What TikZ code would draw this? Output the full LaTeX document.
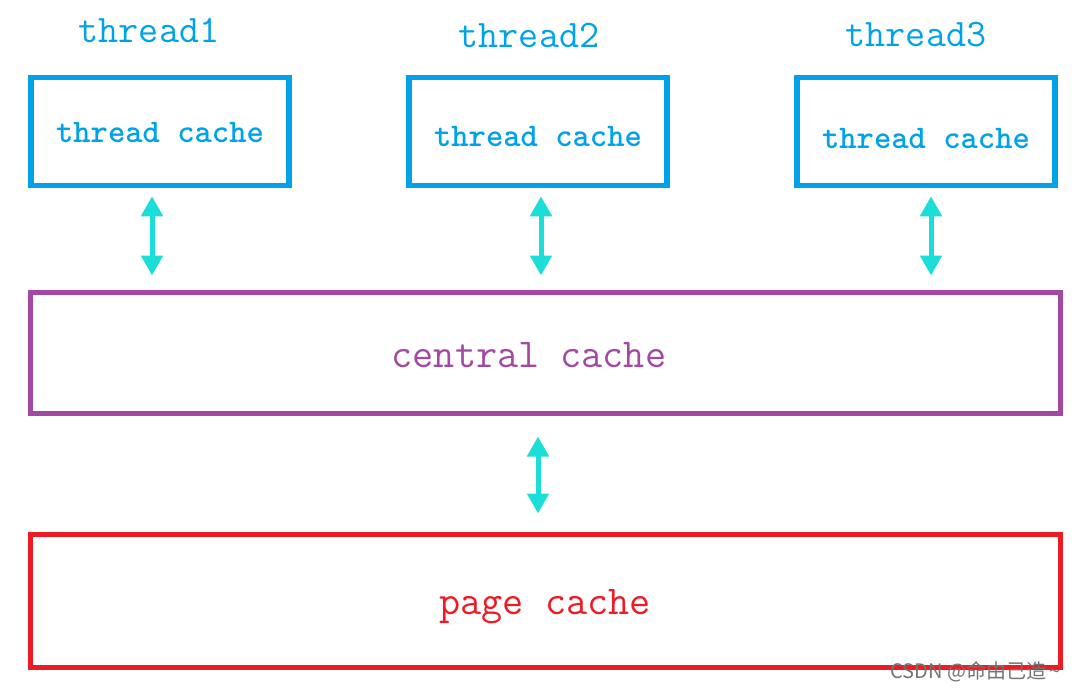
\documentclass[tikz,border=0pt]{standalone}
\usepackage{fontspec}
\newfontfamily\cjkfont{Noto Sans CJK SC}
\usetikzlibrary{arrows.meta, positioning}
\definecolor{threadblue}{RGB}{0,162,232}
\definecolor{centralpurple}{RGB}{163,73,164}
\definecolor{pagered}{RGB}{237,28,36}
\definecolor{linkcyan}{RGB}{27,222,216}
\newcommand{\lowertext}[2]{\raisebox{-#1}[\height][\depth]{#2}}

\begin{document}
\begin{tikzpicture}[x=1pt,y=-1pt,
  tcache/.style={draw=threadblue, line width=5.5pt, minimum width=258pt, minimum height=108pt, inner sep=0pt, text=threadblue, font=\ttfamily\bfseries\fontsize{33}{33}\selectfont},
  tlabel/.style={text=threadblue, font=\ttfamily\fontsize{39}{39}\selectfont},
  bigbox/.style={line width=5pt, minimum width=1030pt, inner sep=0pt, font=\ttfamily\fontsize{41}{41}\selectfont},
  link/.style={{Triangle[width=21pt,length=20pt]}-{Triangle[width=21pt,length=20pt]}, linkcyan, line width=5pt}]
  \useasboundingbox (0,0) rectangle (1077,690);

  \node[tlabel] (lab1) at (149,30) {thread1};
  \node[tlabel] (lab2) at (529,35) {thread2};
  \node[tlabel] (lab3) at (916,35) {thread3};

  \node[tcache] (tc1) at (160,131.5) {\lowertext{1pt}{thread cache}};
  \node[tcache] (tc2) at (538,131.5) {\lowertext{5pt}{thread cache}};
  \node[tcache] (tc3) at (926,131.5) {\lowertext{7pt}{thread cache}};

  \node[bigbox, draw=centralpurple, text=centralpurple, minimum height=121pt] (central) at (545,352.5) {\hspace*{-32pt}\lowertext{3pt}{central cache}};
  \node[bigbox, draw=pagered, text=pagered, minimum height=133pt] (page) at (545,600.5) {\lowertext{6pt}{page cache}};

  \draw[link, shorten <=8pt, shorten >=14pt] ([xshift=-8pt]tc1.south) -- ([xshift=-8pt]tc1.south |- central.north);
  \draw[link, shorten <=8pt, shorten >=14pt] ([xshift=3pt]tc2.south) -- ([xshift=3pt]tc2.south |- central.north);
  \draw[link, shorten <=8pt, shorten >=14pt] ([xshift=5pt]tc3.south) -- ([xshift=5pt]tc3.south |- central.north);
  \draw[link, shorten <=21pt, shorten >=18pt] ([xshift=-7pt]central.south) -- ([xshift=-7pt]central.south |- page.north);

  \node[anchor=base east, text=black!55, font=\cjkfont\fontsize{20}{20}\selectfont] (mark) at (1064,678) {CSDN @命由己造\,\string~};
\end{tikzpicture}
\end{document}
